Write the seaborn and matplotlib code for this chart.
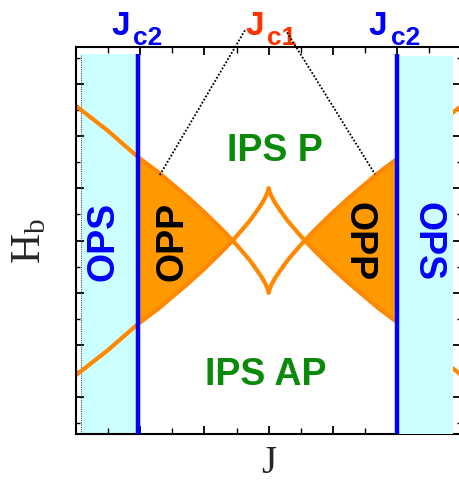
import matplotlib
matplotlib.use("Agg")
import matplotlib.pyplot as plt
import matplotlib.transforms as mtransforms
from matplotlib.patches import Rectangle
from matplotlib.ticker import MultipleLocator
import numpy as np
import pandas as pd
import seaborn as sns

# Phase-boundary branch: |J| and H along one arm (other arms by symmetry)
branch_absJ = [6.0, 5.0, 4.07, 3.4, 3.0, 2.5, 2.0, 1.5, 1.12, 0.85, 0.6, 0.4, 0.22, 0.1, 0.03, 0.0]
branch_H = [2.58, 2.10, 1.60, 1.29, 1.08, 0.82, 0.54, 0.24, 0.0, -0.19, -0.37, -0.54, -0.70, -0.83, -0.93, -1.0]

# Critical couplings
Jc2_left = -4.07
Jc2_right = 4.0
Jc1 = 1.12

# OPS strips (J ranges)
ops_left = (-5.85, Jc2_left)
ops_right = (Jc2_right, 5.73)

# Region labels: text, J, H, rotation, colour
region_labels = [
    ("IPS P", 0.2, 1.74, 0, "#0a8a0a"),
    ("IPS AP", -0.08, -2.56, 0, "#0a8a0a"),
    ("OPP", -3.0, 0.0, 90, "black"),
    ("OPP", 2.81, 0.0, 270, "black"),
    ("OPS", -5.14, 0.0, 90, "#0000ff"),
    ("OPS", 4.95, 0.0, 270, "#0000ff"),
]

sns.set_theme(style="ticks")
plt.rcParams["font.family"] = ["Liberation Sans", "DejaVu Sans"]

ORANGE_LINE = "#ff8800"
ORANGE_FILL = "#ff9900"
CYAN = "#ccffff"
BLUE = "#0000ff"

fig = plt.figure(figsize=(4.59, 4.85), dpi=100)
ax = fig.add_axes([76 / 459, 50 / 485, 385.4 / 459, 387 / 485])
ax.set_xlim(-6, 6)
ax.set_ylim(-3.71, 3.71)

Jb = np.array(branch_absJ)
Hb = np.array(branch_H)

# four arms of the boundary
arms = pd.concat([
    pd.DataFrame({"J": -Jb, "H": Hb, "arm": "a"}),
    pd.DataFrame({"J": -Jb, "H": -Hb, "arm": "b"}),
    pd.DataFrame({"J": Jb, "H": Hb, "arm": "c"}),
    pd.DataFrame({"J": Jb, "H": -Hb, "arm": "d"}),
])
for name, grp in arms.groupby("arm"):
    sns.lineplot(data=grp, x="J", y="H", sort=False, estimator=None,
                 color=ORANGE_LINE, lw=3.0, ax=ax, zorder=2)

# OPP wedges between Jc2 and Jc1
mask = (Jb >= Jc1) & (Jb <= 4.07)
ax.fill_between(-Jb[mask], Hb[mask], -Hb[mask], color=ORANGE_FILL, lw=0, zorder=1.5)
ax.fill_between(Jb[mask], Hb[mask], -Hb[mask], color=ORANGE_FILL, lw=0, zorder=1.5)

# OPS strips
strip_top = 3.57
ax.add_patch(Rectangle((ops_left[0], -3.71), ops_left[1] - ops_left[0], strip_top + 3.71,
                       color=CYAN, lw=0, zorder=0.5))
ax.add_patch(Rectangle((ops_right[0], -3.71), ops_right[1] - ops_right[0], 3.53 + 3.71,
                       color=CYAN, lw=0, zorder=2.6, clip_on=False))
ax.plot([ops_left[0], ops_left[0]], [-3.71, strip_top], color="#555555", lw=0.8,
        ls=(0, (1, 1)), zorder=0.6)

# Jc2 lines
for xc in (Jc2_left, Jc2_right):
    ax.plot([xc, xc], [-3.71, strip_top], color=BLUE, lw=3.2, zorder=3,
            solid_capstyle="butt", clip_on=False)

# region labels
for txt, xj, yh, rot, col in region_labels:
    ax.text(xj, yh, txt, rotation=rot, color=col, fontsize=27, fontweight="bold",
            ha="center", va="center", zorder=4)

# top labels
trans = mtransforms.blended_transform_factory(ax.transData, ax.transAxes)
for xj, xs, sub, col in [(-4.33, -4.22, "c2", BLUE), (3.68, 3.82, "c2", BLUE),
                         (-0.15, -0.04, "c1", "#ff3300")]:
    ax.text(xj, 1.0336, "J", transform=trans, color=col, fontsize=24,
            fontweight="bold", ha="right", va="baseline", clip_on=False)
    ax.text(xs, 1.0065, sub, transform=trans, color=col, fontsize=19,
            fontweight="bold", ha="left", va="baseline", clip_on=False)

# dotted pointers from Jc1 to the OPP tips
ax.plot([-0.74, -3.39], [4.03, 1.255], color="black", lw=1.3, ls=(0, (1, 1)),
        clip_on=False, zorder=5)
ax.plot([0.57, 3.31], [3.99, 1.27], color="black", lw=1.3, ls=(0, (1, 1)),
        clip_on=False, zorder=5)

# axes styling
for s in ax.spines.values():
    s.set_linewidth(1.5)
    s.set_color("black")
ax.xaxis.set_major_locator(MultipleLocator(2))
ax.xaxis.set_minor_locator(MultipleLocator(1))
ax.yaxis.set_major_locator(MultipleLocator(1))
ax.yaxis.set_minor_locator(MultipleLocator(0.5))
ax.tick_params(which="both", direction="in", top=True, right=True,
               labelbottom=False, labelleft=False, color="black")
ax.tick_params(which="major", length=6, width=1.3)
ax.tick_params(which="minor", length=3, width=1.0)
ax.tick_params(axis="x", which="minor", length=4)

ax.set_xlabel("J", fontsize=28, family=["Liberation Serif"], labelpad=7)
ax.set_ylabel(r"$\mathregular{H_b}$", fontsize=30, family=["Liberation Serif"], labelpad=19)

fig.savefig("out.png", dpi=100)
